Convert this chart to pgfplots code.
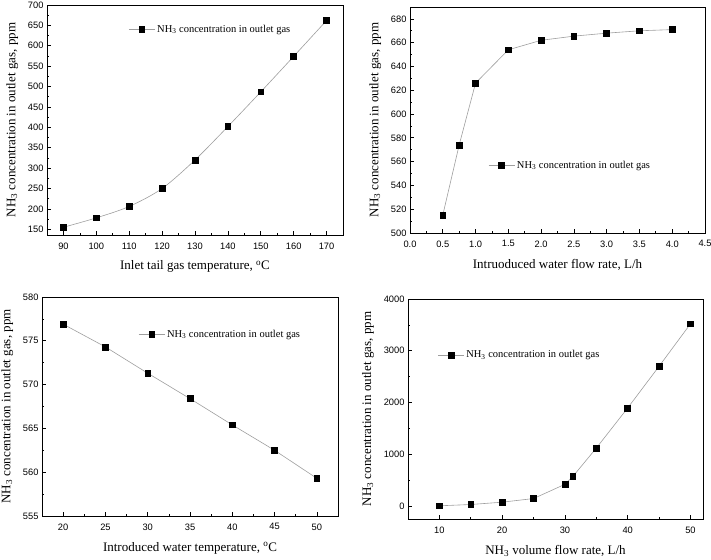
\documentclass[border=0pt]{standalone}
\usepackage{fontspec}
\setmainfont{Liberation Serif}
\newfontfamily\arialfont{Liberation Sans}
\usepackage{pgfplots}
\pgfplotsset{compat=1.18}
\pgfplotsset{
  panel/.style={
    scale only axis,
    anchor=south west,
    axis line style={line width=0.9pt},
    tick align=inside,
    tick pos=left,
    major tick length=4pt,
    minor tick length=2pt,
    every tick/.style={black, line width=0.7pt},
    minor tick num=1,
    /pgf/number format/assume math mode=true,
    /pgf/number format/set thousands separator={},
    ticklabel style={font=\arialfont\fontsize{9.3}{10}\selectfont},
    xticklabel shift=4pt,
    xlabel shift=5pt,
    ylabel shift=3pt,
    label style={font=\fontsize{13}{15}\selectfont},
    legend style={draw=none, fill=none, font=\fontsize{10.5}{12}\selectfont, inner sep=0pt, anchor=west},
    legend cell align=left,
    legend image code/.code={
      \draw[mark repeat=2,mark phase=2] plot coordinates {(0pt,0pt)(13pt,0pt)(26pt,0pt)};
    },
    ser/.style={color=black!38, line width=0.6pt, mark=square*, mark size=2.9pt,
      mark options={fill=black, draw=black}},
    ylabel={NH\textsubscript{3} concentration in outlet gas, ppm},
  }
}
\begin{document}
\begin{tikzpicture}
\useasboundingbox (0pt,0pt) rectangle (711pt,559pt);
% panel 1
\begin{axis}[panel, at={(47pt,324pt)}, width=296pt, height=230pt,
  xmin=85, xmax=175, ymin=136, ymax=700,
  xtick={90,100,...,170}, ytick={150,200,...,700},
  xlabel={Inlet tail gas temperature, \textsuperscript{o}C},
  legend style={at={(0.275,0.895)}}]
\addplot[ser, smooth] coordinates {(90,155)(100,178)(110,206)(120,250)(130,320)(140,402)(150,487)(160,574)(170,662)};
\addlegendentry{NH\textsubscript{3} concentration in outlet gas}
\end{axis}
% panel 2
\begin{axis}[panel, at={(410pt,326pt)}, width=295pt, height=226pt,
  xmin=0, xmax=4.5, ymin=500, ymax=690,
  xtick={0,0.5,...,4.5}, ytick={500,520,...,680},
  xticklabel style={/pgf/number format/.cd, fixed, fixed zerofill, precision=1},
  xlabel={Intruoduced water flow rate, L/h},
  legend style={at={(0.265,0.30)}}]
\addplot[ser] coordinates {(0.5,515)(0.75,574)(1.0,626)(1.5,654)(2.0,662)(2.5,665.5)(3.0,668)(3.5,670)(4.0,671)};
\addlegendentry{NH\textsubscript{3} concentration in outlet gas}
\end{axis}
% panel 3
\begin{axis}[panel, at={(42pt,43pt)}, width=296pt, height=219pt,
  xmin=17.5, xmax=52.5, ymin=555, ymax=580,
  xtick={20,25,...,50}, ytick={555,560,...,580},
  xlabel={Introduced water temperature, \textsuperscript{o}C},
  legend style={at={(0.325,0.83)}}]
\addplot[ser] coordinates {(20,576.9)(25,574.3)(30,571.3)(35,568.4)(40,565.4)(45,562.5)(50,559.3)};
\addlegendentry{NH\textsubscript{3} concentration in outlet gas}
\end{axis}
% panel 4
\begin{axis}[panel, at={(408pt,40pt)}, width=295pt, height=220pt,
  xmin=5, xmax=52, ymin=-250, ymax=4000,
  xtick={10,20,...,50}, ytick={0,1000,...,4000},
  xlabel={NH\textsubscript{3} volume flow rate, L/h},
  legend style={at={(0.1,0.745)}}]
\addplot[ser] coordinates {(10,5)(15,30)(20,75)(25,145)(30,420)(31.25,570)(35,1120)(40,1895)(45,2700)(50,3520)};
\addlegendentry{NH\textsubscript{3} concentration in outlet gas}
\end{axis}
\end{tikzpicture}
\end{document}
